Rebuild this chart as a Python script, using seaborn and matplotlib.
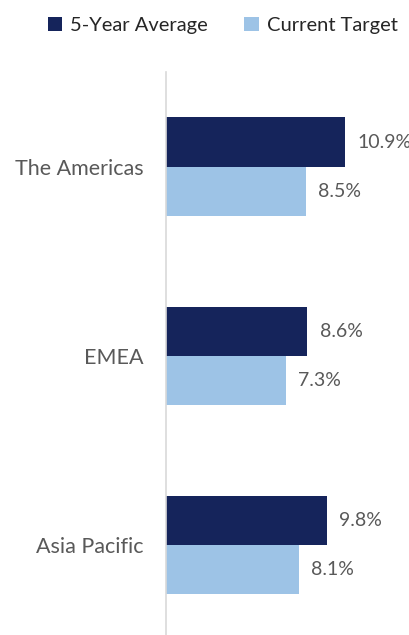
import pandas as pd
import matplotlib.pyplot as plt
import seaborn as sns
from matplotlib.patches import Patch

regions = ['The Americas', 'EMEA', 'Asia Pacific']
series = ['5-Year Average', 'Current Target']
five_year_avg = [10.9, 8.6, 9.8]
current_target = [8.5, 7.3, 8.1]

colors = ['#15245B', '#9DC3E6']

df = pd.DataFrame({
    'region': regions * 2,
    'series': [series[0]] * 3 + [series[1]] * 3,
    'value': five_year_avg + current_target,
})

sns.set_theme(style="white")
plt.rcParams['font.family'] = ['Lato', 'DejaVu Sans']

fig = plt.figure(figsize=(4.09, 6.35), dpi=100)
ax = fig.add_axes([166 / 409, 0, 243 / 409, (635 - 72) / 635])

sns.barplot(data=df, y='region', x='value', hue='series', order=regions,
            hue_order=series, palette=colors, orient='h', width=0.52,
            saturation=1, linewidth=0, ax=ax, legend=False)

for cont in ax.containers:
    ax.bar_label(cont, labels=[f'{v:.1f}%' for v in cont.datavalues],
                 padding=9, fontsize=14, color='#595959', clip_on=False)

ax.set_xlim(0, 14.8)
ax.set_ylim(2.474, -0.5)
ax.set_xlabel('')
ax.set_ylabel('')
ax.set_xticks([])
ax.tick_params(axis='y', length=0, pad=16, labelsize=15.5, labelcolor='#595959')
for s in ['top', 'right', 'bottom']:
    ax.spines[s].set_visible(False)
ax.spines['left'].set_color('#D9D9D9')
ax.spines['left'].set_linewidth(1.2)

handles = [Patch(facecolor=c, edgecolor='none') for c in colors]
fig.legend(handles, series, loc='center', bbox_to_anchor=(0.545, 0.96), ncol=2,
           frameon=False, fontsize=14.5, handlelength=0.7, handleheight=0.7,
           handletextpad=0.4, columnspacing=1.8, labelcolor='#262626')

fig.savefig('out.png', dpi=100)
